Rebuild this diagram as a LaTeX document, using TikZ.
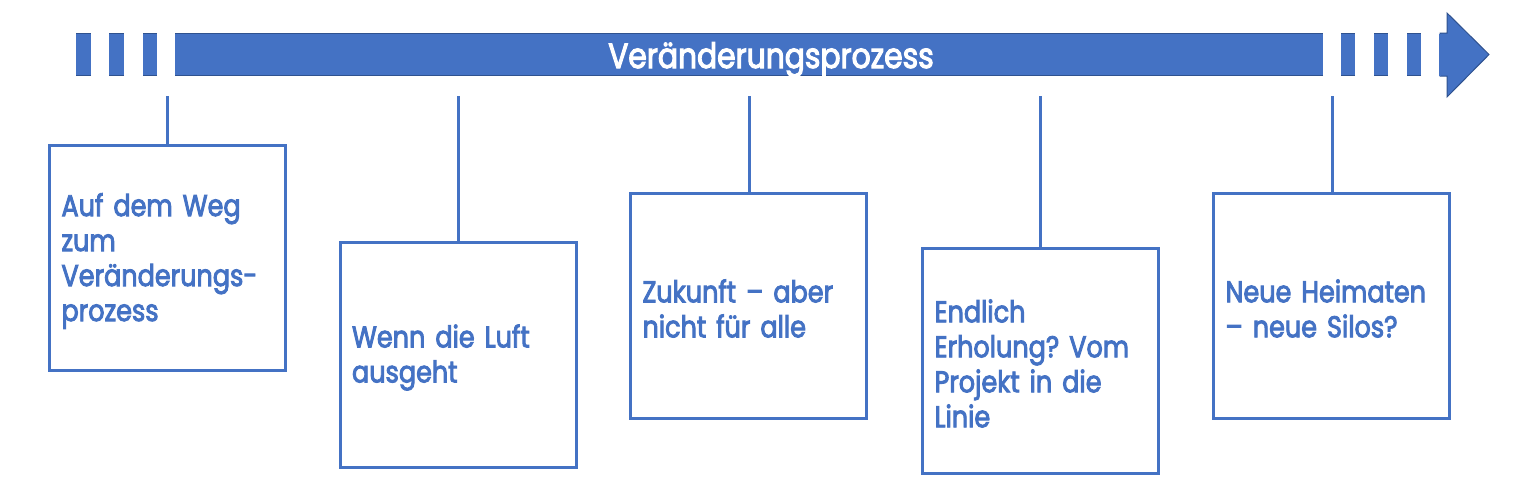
\documentclass[tikz,border=0pt]{standalone}
\usepackage{fontspec}
\newfontfamily\futura[FakeStretch=0.85,FakeBold=3]{Poppins}
\definecolor{obl}{HTML}{4472C4}
\definecolor{odk}{HTML}{2F528F}
\frenchspacing
\begin{document}
\begin{tikzpicture}[x=1pt,y=-1pt,
  box/.style={draw=obl,line width=3pt,minimum width=236pt,minimum height=225pt,inner sep=0pt},
  boxtext/.style={text width=212pt,inner xsep=0pt,align=left,text=obl,
    font=\futura\fontsize{30}{35}\selectfont},
  conn/.style={draw=obl,line width=3pt}]
\useasboundingbox (0,0) rectangle (1524,477);
% bar segments
\foreach \a/\b in {76/91,109/124,143/157,175/1323,1341/1355,1374/1388,1407/1421}{
  \fill[obl] (\a,33) rectangle (\b,76);
  \draw[odk,line width=0.6pt] (\a,33.3) -- (\b,33.3);
  \draw[odk,line width=1.4pt] (\b,75.3) -- (\a,75.3);
}
\fill[obl,draw=odk,line width=1pt] (1440,33) -- (1447,33) -- (1447,13) -- (1489,54.5) -- (1447,97) -- (1447,76) -- (1440,76) -- cycle;
\fill[obl] (1439,33.5) rectangle (1441,75.5);
\node[text=white,font=\futura\fontsize{35}{40}\selectfont,anchor=base] (title) at (771,68) {Veränderungsprozess};
% boxes
\node[box] (b1) at (167.5,258) {};
\node[box] (b2) at (458,354.5) {};
\node[box] (b3) at (748.5,305.5) {};
\node[box] (b4) at (1040.5,360.5) {};
\node[box] (b5) at (1331.5,305.5) {};
\node[boxtext] (x1) at ([yshift=-3pt]b1.center) {Auf dem Weg\\zum\\Veränderungs-\\prozess};
\node[boxtext] (x2) at ([yshift=-3pt]b2.center) {Wenn die Luft\\ausgeht};
\node[boxtext] (x3) at ([yshift=-3pt]b3.center) {Zukunft – aber\\nicht für alle};
\node[boxtext] (x4) at ([yshift=-3pt]b4.center) {Endlich\\Erholung? Vom\\Projekt in die\\Linie};
\node[boxtext] (x5) at ([yshift=-3pt]b5.center) {Neue Heimaten\\– neue Silos?};
% connectors
\foreach \n/\x in {1/167,2/458,3/749,4/1040,5/1332}{
  \coordinate (t\n) at (\x,96);
  \draw[conn] (t\n) -- (b\n.north -| t\n);
}
\end{tikzpicture}
\end{document}
